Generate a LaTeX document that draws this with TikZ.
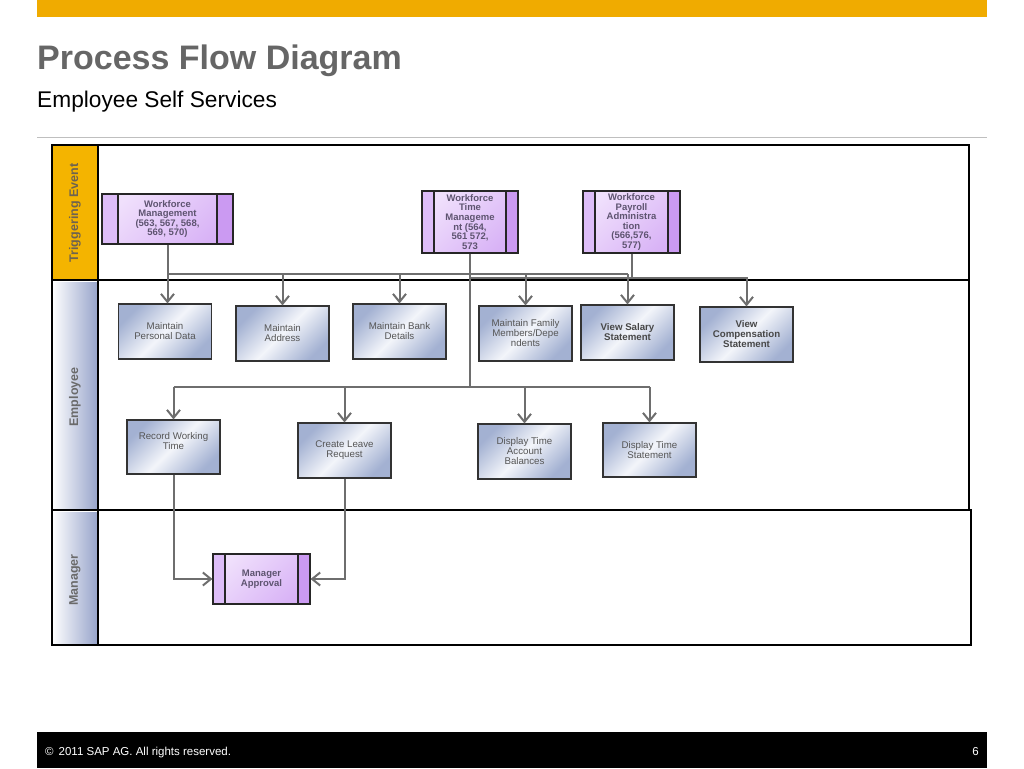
\documentclass[tikz,border=0pt]{standalone}
\usepackage{fontspec}
\setmainfont{Liberation Sans}
\usetikzlibrary{arrows.meta,calc}
\definecolor{sapgold}{HTML}{F0AB00}
\definecolor{lanegold}{HTML}{F4B400}
\definecolor{titlegray}{HTML}{666666}
\definecolor{rulegray}{HTML}{BFBFBF}
\definecolor{conngray}{HTML}{6E6E6E}
\definecolor{boxblue}{HTML}{A3B1D2}
\definecolor{boxlight}{HTML}{F3F5FA}
\definecolor{purlight}{HTML}{F0E0FC}
\definecolor{purmid}{HTML}{D8B2F6}
\definecolor{purstripA}{HTML}{DDBDF8}
\definecolor{purstripB}{HTML}{CB9AF2}
\definecolor{purtext}{HTML}{5E5470}
\definecolor{emptext}{HTML}{555555}
\definecolor{labelblue}{HTML}{96A3CA}
\definecolor{lanetext}{HTML}{6A6A6A}
\definecolor{trigtext}{HTML}{6E6350}
\begin{document}
\begin{tikzpicture}[x=1pt,y=-1pt,
  actbox/.style={draw=black!80, line width=1.1pt, inner sep=1pt, align=center, text=emptext,
    font=\fontsize{9.7}{10}\selectfont, minimum width=93pt, minimum height=55pt,
    left color=boxblue, right color=boxblue, middle color=boxlight, shading angle=45},
  actbold/.style={actbox, font=\fontsize{9.7}{10}\selectfont\bfseries, text=black!72},
  procbox/.style={draw=black!85, line width=1.1pt, align=center, text=purtext, inner sep=0pt,
    font=\fontsize{9.5}{9.6}\selectfont\bfseries,
    left color=purlight, right color=purmid, shading angle=45,
    path picture={
      \fill[purstripA] (path picture bounding box.north west) rectangle ([xshift=#1]path picture bounding box.south west);
      \fill[purstripB] (path picture bounding box.north east) rectangle ([xshift=-#1]path picture bounding box.south east);
      \draw[black!85, line width=1.1pt] ([xshift=#1]path picture bounding box.north west) -- ([xshift=#1]path picture bounding box.south west);
      \draw[black!85, line width=1.1pt] ([xshift=-#1]path picture bounding box.north east) -- ([xshift=-#1]path picture bounding box.south east);
    }},
  procbox/.default=12pt,
  lanelabel/.style={rotate=90, font=\fontsize{12.5}{12.5}\selectfont\bfseries, text=lanetext},
  conn/.style={draw=conngray, line width=2pt, -{Straight Barb[length=8pt,width=13pt]}},
  connl/.style={draw=conngray, line width=2pt},
  lanebox/.style={draw=black, line width=1.3pt},
  laneline/.style={draw=black, line width=2.8pt}
]
\useasboundingbox (0,0) rectangle (1024,768);
% header
\fill[sapgold] (37,0) rectangle (987,17);
\node[anchor=base west, inner sep=0pt, text=titlegray, font=\fontsize{34}{34}\selectfont\bfseries] (title) at (37,70) {Process Flow Diagram};
\node[anchor=base west, inner sep=0pt, text=black, font=\fontsize{22.7}{22.7}\selectfont] (subtitle) at (37,107) {Employee Self Services};
\draw[rulegray, line width=1pt] (37,137) -- (987,137);
% footer
\fill[black] (37,732) rectangle (987,768);
\node[anchor=base west, inner sep=0pt, text=white, font=\fontsize{11.5}{11.5}\selectfont] (copy) at (45,755) {©\hspace{5pt}2011 SAP AG. All rights reserved.};
\node[anchor=base east, inner sep=0pt, text=white, font=\fontsize{11.5}{11.5}\selectfont] (page) at (979,755) {6};
% lanes
\fill[lanegold] (52,145) rectangle (98,279);
\shade[left color=white, right color=labelblue] (52,282) rectangle (98,509);
\shade[left color=white, right color=labelblue] (52,512) rectangle (98,645);
\draw[lanebox] (52,145) rectangle (969,280);
\draw[lanebox] (98,145) -- (98,280);
\draw[lanebox] (52,280) rectangle (969,510);
\draw[lanebox] (98,280) -- (98,510);
\draw[lanebox] (52,510) rectangle (971,645);
\draw[lanebox] (98,510) -- (98,645);
\draw[laneline] (52,280) -- (969,280);
\draw[laneline] (52,510) -- (971,510);
\node[lanelabel, text=trigtext] (lblT) at (75,213) {Triggering Event};
\node[lanelabel] (lblE) at (75,397) {Employee};
\node[lanelabel] (lblM) at (75,580) {Manager};
% trigger nodes
\node[procbox=16pt, minimum width=131pt, minimum height=50pt] (wfm) at (167.5,219) {Workforce\\Management\\(563, 567, 568,\\569, 570)};
\node[procbox, minimum width=96pt, minimum height=62pt] (wtm) at (470,222) {Workforce\\Time\\Manageme\\nt (564,\\561 572,\\573};
\node[procbox, minimum width=97pt, minimum height=62pt] (wpa) at (631.5,222) {Workforce\\Payroll\\Administra\\tion\\(566,576,\\577)};
% employee nodes
\node[actbox] (mpd) at (165,331.5) {Maintain\\Personal Data};
\node[actbox] (mad) at (282.5,333.5) {Maintain\\Address};
\node[actbox] (mbd) at (399.5,331.5) {Maintain Bank\\Details};
\node[actbox] (mfm) at (525.5,333.5) {Maintain Family\\Members/Depe\\ndents};
\node[actbold] (vss) at (627.5,332.5) {View Salary\\Statement};
\node[actbold] (vcs) at (746.5,334.5) {View\\Compensation\\Statement};
\node[actbox, minimum height=54pt] (rwt) at (173.5,447) {Record Working\\Time\\[3pt]};
\node[actbox] (clr) at (344.5,450.5) {Create Leave\\Request};
\node[actbox] (dta) at (524.5,451.5) {Display Time\\Account\\Balances};
\node[actbox, minimum height=54pt] (dts) at (649.5,450) {Display Time\\Statement};
% manager node
\node[procbox, minimum width=97pt, minimum height=50pt] (mapp) at (261.5,579) {Manager\\Approval};
% connectors: workforce management bus
\coordinate (busA) at (167.5,274);
\draw[connl] (wfm.south) |- (busA -| vss.north);
\draw[conn] (busA) -- (busA |- mpd.north);
\draw[conn] (busA -| mad.north) -- (mad.north);
\draw[conn] (busA -| mbd.north) -- (mbd.north);
\draw[conn] (busA -| mfm.north) -- (mfm.north);
\draw[conn] (busA -| vss.north) -- (vss.north);
% payroll bus
\coordinate (busB) at (631.5,277.5);
\draw[connl] (busB -| wtm.south) -- (busB);
\draw[conn] (wpa.south) -- (busB) -| (vcs.north);
% time management bus
\coordinate (busC) at (470,387);
\draw[connl] (wtm.south) -- (busC);
\draw[connl] (busC -| rwt.north) -- (busC -| dts.north);
\draw[conn] (busC -| rwt.north) -- (rwt.north);
\draw[conn] (busC -| clr.north) -- (clr.north);
\draw[conn] (busC -| dta.north) -- (dta.north);
\draw[conn] (busC -| dts.north) -- (dts.north);
% to manager approval
\draw[conn] (rwt.south) |- (mapp.west);
\draw[conn] (clr.south) |- (mapp.east);
\end{tikzpicture}
\end{document}
